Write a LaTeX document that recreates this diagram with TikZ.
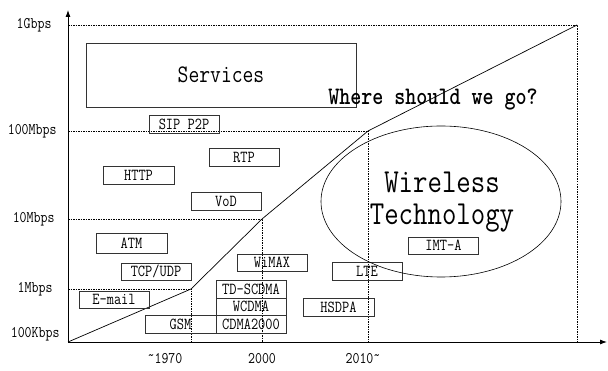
\documentclass[tikz,border=0pt]{standalone}
\usepackage{graphicx}
\usetikzlibrary{arrows.meta,shapes.geometric}
\newcommand{\uptilde}{\raisebox{0.45ex}{\textasciitilde}}
\newcommand{\tallt}[1]{\scalebox{1}[1.2]{#1}}
\begin{document}
\begin{tikzpicture}[x=1pt,y=-1pt,font=\ttfamily,
  guide/.style={line width=0.5pt,dash pattern=on 1.5pt off 1pt},
  axis/.style={line width=0.9pt,-{Latex[length=7pt,width=5pt]}},
  trend/.style={line width=0.7pt},
  tech/.style={draw=black!80,line width=0.6pt,inner sep=0pt,minimum width=70pt,minimum height=18pt,font=\ttfamily\fontsize{14}{16}\selectfont},
  ylab/.style={anchor=east,font=\ttfamily\fontsize{13.5}{15}\selectfont},
  xlab/.style={anchor=center,font=\ttfamily\fontsize{13.5}{15}\selectfont}]
\useasboundingbox (0,0) rectangle (608,371);

% axes
\coordinate (o) at (68,342);
\coordinate (ytop) at (68,10);
\coordinate (xend) at (607,342);
\draw[axis] (o) -- (ytop);
\draw[axis] (o) -- (xend);

% growth curve break points
\coordinate (p1) at (191,289);
\coordinate (p2) at (262,219);
\coordinate (p3) at (368,131);
\coordinate (p4) at (577,25);
\coordinate (b1) at (191,342);
\coordinate (b2) at (262,342);
\coordinate (b3) at (368,342);
\coordinate (b4) at (577,342);
\coordinate (l1) at (68,289);
\coordinate (l2) at (68,219);
\coordinate (l3) at (68,131);
\coordinate (l4) at (68,25);

% guide lines
\draw[guide] (l1) -- (p1) -- (b1);
\draw[guide] (l2) -- (p2) -- (b2);
\draw[guide] (l3) -- (p3) -- (b3);
\draw[guide] (l4) -- (p4) -- (b4);

% trend
\draw[trend] (o) -- (p1) -- (p2) -- (p3) -- (p4);

% axis labels
\node[ylab] (g1) at (55,25) {\tallt{1Gbps}};
\node[ylab] (m100) at (60,131) {\tallt{100Mbps}};
\node[ylab] (m10) at (58,219) {\tallt{10Mbps}};
\node[ylab] (m1) at (56,289) {\tallt{1Mbps}};
\node[ylab] (k100) at (63,334) {\tallt{100Kbps}};
\node[xlab] (y1970) at (165,359) {\tallt{\uptilde 1970}};
\node[xlab] (y2000) at (262,359) {\tallt{2000}};
\node[xlab] (y2010) at (363,359) {\tallt{2010\uptilde}};

% services and protocols
\node[tech,minimum width=270pt,minimum height=64pt,font=\ttfamily\fontsize{21}{24}\selectfont] (services) at (221,75) {\tallt{Services}};
\node[tech] (sip) at (184,124) {\tallt{SIP P2P}};
\node[tech] (rtp) at (244,157) {\tallt{RTP}};
\node[tech,minimum width=71pt] (http) at (138.5,175) {\tallt{HTTP}};
\node[tech] (vod) at (226,201) {\tallt{VoD}};
\node[tech,minimum width=71pt,minimum height=20pt] (atm) at (131.5,243.5) {\tallt{ATM}};
\node[tech,minimum height=17pt] (tcp) at (156,271.5) {\tallt{TCP/UDP}};
\node[tech,minimum height=17pt] (email) at (114,299.5) {\tallt{E-mail}};

% wireless systems
\node[tech,minimum height=17pt] (wimax) at (272,262.5) {\tallt{WiMAX}};
\node[tech] (tdscdma) at (251,289) {\tallt{TD-SCDMA}};
\node[tech,minimum height=17pt] (wcdma) at (251,306.5) {\tallt{WCDMA}};
\node[tech] (cdma) at (251,324) {\tallt{CDMA2000}};
\node[tech,minimum width=71pt] (gsm) at (180.5,324) {\tallt{GSM}};
\node[tech] (lte) at (367,271) {\tallt{LTE}};
\node[tech,minimum width=71pt] (hsdpa) at (338.5,307) {\tallt{HSDPA}};
\node[tech,minimum height=17pt] (imt) at (443.5,245.5) {\tallt{IMT-A}};

% wireless technology outlook
\node[draw,ellipse,line width=0.6pt,minimum width=240pt,minimum height=151pt,inner sep=0pt] (wt) at (441,201.5) {};
\node[font=\ttfamily\fontsize{28}{32}\selectfont,align=center] (wtl) at (442,202) {\tallt{Wireless}\\\tallt{Technology}};
\node[font=\ttfamily\bfseries\fontsize{21}{24}\selectfont] (q) at (433,100) {\tallt{Where should we go?}};
\end{tikzpicture}
\end{document}
